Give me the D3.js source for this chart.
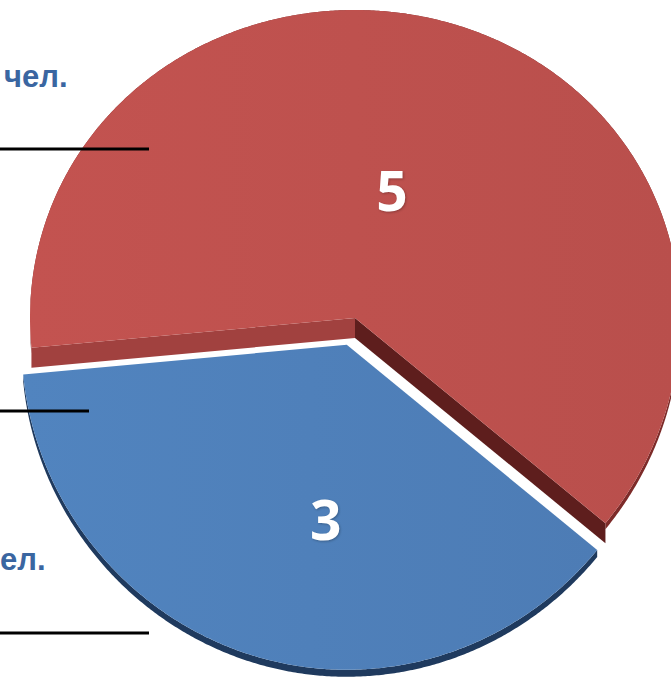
<!DOCTYPE html>
<html><head><meta charset="utf-8">
<script src="https://cdn.jsdelivr.net/npm/d3@7"></script>
<style>html,body{margin:0;padding:0;background:#fff;overflow:hidden}</style>
</head><body>
<svg id="chart" width="671" height="680"></svg>
<script>
// ---- data ----
const values = [5, 3];
const valueLabels = ["5", "3"];
const sideLabels = ["чел.", "ел."];
const faceColors = ["#be514e", "#4f80ba"];
const rimColors = ["#7d2b29", "#1f3a5e"];
const radialColors = [["#a1413f", "#5e1e1d"], [null, null]];

// ---- layout ----
const deg = Math.PI / 180;
const cx = 355, cy = 318, rx = 325, A = 316.5, B = 8.5;
const explode = [0, 28];
const depthRadial = 20, depthRim = [6, 7];
const labelShift = [-1.6 * deg, -10.3 * deg], labelR = [0.426, 0.544];

const svg = d3.select("#chart");
const pie = d3.pie().sort(null).startAngle(-95.4 * deg).endAngle(264.6 * deg);
const arcs = pie(values);

function proj(a, r) {
  const s = Math.sin(a), c = Math.cos(a);
  return [cx + rx * r * s, cy - A * r * c + B * r * r * c * c];
}
function offset(d, i) {
  const m = (d.startAngle + d.endAngle) / 2;
  return [explode[i] * Math.sin(m), -explode[i] * Math.cos(m)];
}
const line = d3.line();
function outerPts(d) {
  const n = Math.ceil((d.endAngle - d.startAngle) / (0.4 * deg));
  return d3.range(n + 1).map(k => proj(d.startAngle + (d.endAngle - d.startAngle) * k / n, 1));
}

// gradients
const defs = svg.append("defs");
faceColors.forEach((c, i) => {
  const g = defs.append("linearGradient").attr("id", "g" + i)
    .attr("x1", "0").attr("y1", "0").attr("x2", "1").attr("y2", "0");
  g.append("stop").attr("offset", "0").attr("stop-color", d3.color(c).brighter(0.08));
  g.append("stop").attr("offset", "1").attr("stop-color", d3.color(c).darker(0.08));
});

const slices = svg.selectAll("g.slice").data(arcs).join("g")
  .attr("class", "slice")
  .attr("transform", (d, i) => { const o = offset(d, i); return `translate(${o[0]},${o[1]})`; });

slices.each(function (d, i) {
  const g = d3.select(this);
  const pts = outerPts(d);
  const apex = proj(0, 0);
  // outer rim
  const rimPts = pts.concat(pts.slice().reverse().map(p => [p[0], p[1] + depthRim[i]]));
  g.append("path").attr("d", line(rimPts) + "Z").attr("fill", rimColors[i]);
  // radial faces
  if (radialColors[i][0]) {
    const pE = pts[pts.length - 1], pS = pts[0];
    [[pS, radialColors[i][0]], [pE, radialColors[i][1]]].forEach(([p, col]) => {
      const poly = [apex, p, [p[0], p[1] + depthRadial], [apex[0], apex[1] + depthRadial]];
      g.append("path").attr("d", line(poly) + "Z").attr("fill", col);
    });
  }
  // top face
  g.append("path").attr("d", line([apex].concat(pts)) + "Z").attr("fill", `url(#g${i})`);
  // value label
  const m = (d.startAngle + d.endAngle) / 2 + labelShift[i];
  const lp = proj(m, labelR[i]);
  g.append("text").attr("x", lp[0]).attr("y", lp[1])
    .attr("text-anchor", "middle").attr("dominant-baseline", "central")
    .attr("font-family", "'Open Sans', Lato, sans-serif").attr("font-weight", 700)
    .attr("font-size", 55).attr("fill", "#fff")
    .style("filter", "drop-shadow(1px 1px 1px rgba(0,0,0,0.25))")
    .text(valueLabels[d.index]);
});

// leader lines & side labels
const leaderLines = [[0, 149, 149], [0, 89, 411], [0, 149, 633]];
svg.selectAll("line.leader").data(leaderLines).join("line")
  .attr("x1", d => d[0]).attr("x2", d => d[1]).attr("y1", d => d[2]).attr("y2", d => d[2])
  .attr("stroke", "#000").attr("stroke-width", 3);

svg.append("text").attr("x", 4).attr("y", 87)
  .attr("font-family", "'Liberation Sans', Arial, sans-serif").attr("font-weight", 700)
  .attr("font-size", 31).attr("fill", "#3a66a1").text(sideLabels[0]);
svg.append("text").attr("x", 0).attr("y", 570)
  .attr("font-family", "'Liberation Sans', Arial, sans-serif").attr("font-weight", 700)
  .attr("font-size", 31).attr("fill", "#3a66a1").text(sideLabels[1]);
</script>
</body></html>
